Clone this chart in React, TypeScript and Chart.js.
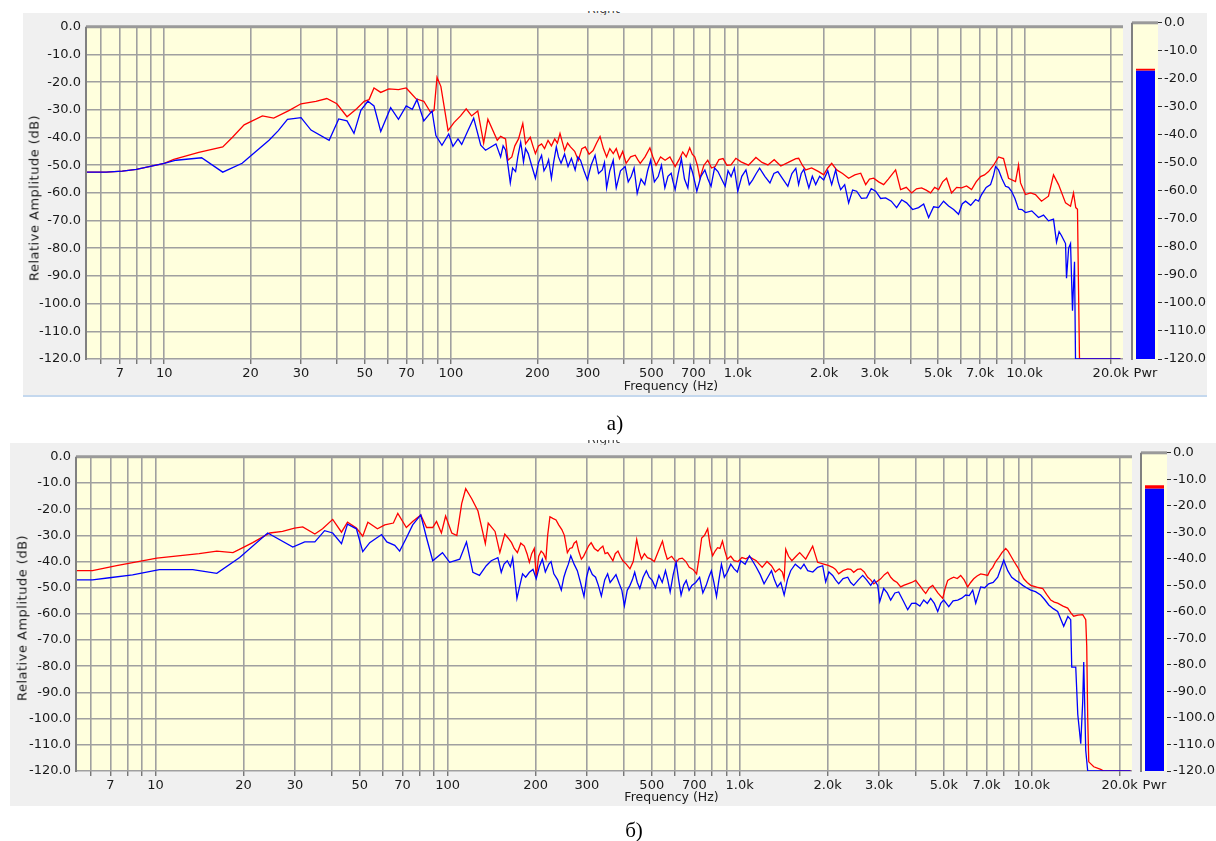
import React, { useEffect, useRef } from 'react';
import { Chart, registerables } from 'chart.js';
Chart.register(...registerables);

// ---- axis ticks ----
const gridFreqs = [6, 7, 8, 9, 10, 20, 30, 40, 50, 60, 70, 80, 90, 100, 200, 300, 400, 500, 600, 700, 800, 900, 1000, 2000, 3000, 4000, 5000, 6000, 7000, 8000, 9000, 10000, 20000];
const labeledFreqs = [7, 10, 20, 30, 50, 70, 100, 200, 300, 500, 700, 1000, 2000, 3000, 5000, 7000, 10000, 20000];
const freqLabels = ['7', '10', '20', '30', '50', '70', '100', '200', '300', '500', '700', '1.0k', '2.0k', '3.0k', '5.0k', '7.0k', '10.0k', '20.0k'];
const dbTicks = [0, -10, -20, -30, -40, -50, -60, -70, -80, -90, -100, -110, -120];
const freqMin = 5.38;
const freqMax = 22050;

// ---- panel a): [frequency Hz, level dB] ----
const blueA: number[][] = [
  [5.38, -52.5], [6.28, -52.5], [7.14, -52.1], [8.0, -51.5], [8.86, -50.5], [10, -49.3], [11, -48.2], [13.5, -47.3], [16.0, -52.5], [18.7, -49.3],
  [20.1, -46.5], [23.2, -41], [25, -37.5], [26.9, -33.4], [30, -32.8], [32.5, -37.3], [37.6, -41], [40.6, -33.3], [43.4, -34], [45.9, -38.5],
  [48.5, -30.2], [51.3, -26.9], [53.9, -28.6], [56.9, -37.8], [61.6, -29.2], [65.6, -33.4], [69.8, -28.6], [73.3, -29.8], [76.1, -26.3], [80.4, -34],
  [85.9, -30.4], [88.6, -39.3], [93, -42.8], [98.2, -38.7], [101.6, -43.2], [105.8, -40.5], [109, -42.5], [114, -38], [120, -33], [127, -42.8],
  [132, -44.6], [143.5, -42.3], [149, -47], [152, -43], [155, -44.5], [158, -50], [161, -56.4], [164, -51], [168, -52.3], [171, -47],
  [175, -41.7], [177, -45], [179, -48.8], [182, -44], [186, -45.8], [191, -50], [197, -54.7], [202, -49], [207, -46.4], [211, -52],
  [215, -50.5], [219, -48], [224, -54.7], [228, -49], [233, -43.4], [237, -47], [242, -49.3], [249, -46], [256, -50.5], [263, -47.5],
  [271, -51.7], [277, -47], [283, -48.2], [291, -52], [299, -55.3], [308, -50], [318, -46.4], [327, -53], [337, -51.7], [343, -49],
  [349, -58.2], [358, -52], [368, -48.2], [372, -53], [377, -58.2], [390, -52], [405, -50.5], [415, -56], [425, -54.1], [435, -51],
  [446, -60.2], [460, -55], [474, -57], [485, -52], [497, -48.2], [512, -56], [528, -54.1], [542, -50], [557, -58.2], [571, -54],
  [586, -52.9], [595, -56], [605, -58.8], [620, -53], [636, -47.6], [652, -55], [670, -58.2], [683, -50], [697, -52.9], [708, -56],
  [720, -59.4], [744, -54], [768, -51.7], [787, -55], [807, -57.6], [830, -51], [853, -52.3], [878, -55], [904, -57.6], [925, -52],
  [948, -54.1], [973, -51], [1000, -59.4], [1033, -54], [1068, -51.7], [1097, -57], [1127, -55.3], [1160, -53], [1192, -51.1], [1243, -54],
  [1295, -56.4], [1337, -53], [1380, -52.3], [1437, -55], [1495, -57.6], [1545, -53], [1594, -51.1], [1630, -57], [1665, -53], [1700, -51.5],
  [1735, -55], [1770, -58.2], [1820, -54], [1870, -57], [1930, -54], [1994, -55.3], [2060, -52], [2126, -57], [2195, -51.7], [2240, -56],
  [2285, -58.8], [2360, -57], [2436, -63.6], [2515, -59], [2598, -59.4], [2700, -62], [2815, -61.8], [2920, -58.5], [3026, -59.4], [3150, -62],
  [3279, -61.8], [3430, -63], [3581, -65.3], [3730, -62.5], [3880, -63.6], [4070, -66], [4272, -65.3], [4450, -64], [4630, -68.9], [4820, -65],
  [5015, -65.3], [5220, -63], [5435, -64.7], [5660, -66], [5888, -67.7], [6060, -64], [6229, -63], [6490, -64.5], [6751, -62.4], [6910, -63],
  [7083, -60.6], [7350, -58], [7612, -57], [7780, -54], [7925, -50.5], [8117, -51.7], [8350, -55], [8587, -57.6], [8800, -58], [9010, -59.4],
  [9260, -62], [9531, -65.9], [9800, -66], [10080, -67.1], [10600, -66.5], [11190, -68.9], [11650, -68], [12120, -70.1], [12620, -69.5], [12930, -77.8],
  [13200, -74], [13450, -75.4], [13700, -77], [13900, -78.3], [14010, -90.8], [14250, -80], [14470, -78.3], [14700, -102.6], [14940, -84.9], [15060, -120],
  [21600, -120],
];
const redA: number[][] = [
  [5.38, -52.5], [6.28, -52.5], [7.14, -52.1], [8.0, -51.5], [8.86, -50.5], [10, -49.3], [10.8, -47.9], [13.2, -45.4], [16, -43.4], [17.3, -39.9],
  [19, -35.4], [22, -32.2], [24.1, -33], [27.3, -30.2], [30, -27.8], [33.8, -26.9], [36.9, -25.9], [40, -27.8], [43.4, -32.5], [47, -29.5],
  [49.8, -26.9], [51.8, -26.3], [53.9, -22.1], [56.9, -23.7], [60.7, -22.4], [65.6, -22.7], [69.8, -22.1], [75.5, -26], [80.4, -26.9], [85, -31],
  [87.3, -30.2], [89.4, -18.3], [92.2, -21.5], [97.7, -37.5], [102.4, -34.6], [108, -32.2], [113, -29.6], [118, -32.2], [124, -30.4], [130, -42],
  [134.5, -33.4], [145, -41], [149, -39.6], [155, -40.5], [158, -48.2], [163, -47], [167, -43], [172, -40.5], [178, -34.9], [182, -42.3],
  [189, -39.9], [193, -43], [197, -45.8], [202, -43], [207, -42.3], [212, -44], [218, -41], [224, -43], [230, -40.5], [235, -42],
  [240, -38.5], [249, -44.7], [255, -42], [261, -43.4], [270, -45], [278, -48.2], [286, -44], [294, -43.4], [303, -46], [313, -44.7],
  [322, -42], [331, -39.6], [340, -44], [349, -47], [358, -44], [368, -45.8], [377, -44], [387, -47.6], [397, -45], [408, -49.3],
  [423, -47], [439, -46.4], [448, -48], [457, -49.3], [475, -47], [494, -43.7], [506, -47], [519, -50], [538, -47], [558, -48.2],
  [580, -47], [605, -50.5], [624, -48], [643, -45.2], [661, -47], [680, -43.7], [694, -46], [708, -47], [723, -50], [738, -54.7],
  [762, -50], [786, -48.2], [810, -51], [834, -50.5], [860, -48], [889, -47.6], [917, -50], [947, -49.9], [985, -47.5], [1027, -48.8],
  [1090, -50], [1157, -47.2], [1215, -49], [1274, -49.9], [1340, -48], [1413, -50.3], [1500, -49], [1594, -47.6], [1631, -47.5], [1680, -50],
  [1725, -51.7], [1810, -51], [1915, -52.3], [1994, -53.5], [2060, -51], [2126, -49.3], [2213, -51.7], [2320, -53], [2436, -54.7], [2560, -53.5],
  [2684, -52.9], [2793, -57], [2880, -55], [2978, -54.7], [3100, -56], [3227, -57], [3350, -55], [3552, -51.7], [3698, -58.8], [3870, -58],
  [4040, -60], [4200, -58.5], [4377, -58.2], [4540, -59], [4704, -60], [4860, -58], [5015, -58.8], [5180, -56], [5348, -54.7], [5567, -60],
  [5800, -58], [6032, -58.2], [6280, -57.5], [6537, -58.8], [6780, -56], [7025, -54.1], [7250, -53.5], [7491, -52.3], [7800, -50], [8117, -47],
  [8449, -47.6], [8797, -54.7], [9302, -55.9], [9531, -49.9], [9685, -56.4], [10080, -60.6], [10500, -60], [10920, -60.6], [11460, -63], [12120, -61.2],
  [12620, -53.5], [13140, -57], [13900, -63.6], [14470, -64.8], [14820, -60], [15090, -65.3], [15300, -65.9], [15430, -94.9], [15550, -120], [21600, -120],
];
const pwrBlueA = [-120, -17.0];
const pwrRedA = [-17.0, -16.4];

// ---- panel б): [frequency Hz, level dB] ----
const blueB: number[][] = [
  [5.38, -47], [6.08, -47], [6.95, -46.2], [8.34, -45.1], [10.3, -43.1], [13.4, -43.1], [16.2, -44.5], [19.4, -38.5], [24.2, -29.1], [29.5, -34.5],
  [32.4, -32.5], [35.1, -32.5], [37.9, -28.2], [40.4, -29.1], [43.3, -33.2], [45.4, -25.7], [48.7, -27.5], [51.2, -36.2], [54.1, -32.8], [59.4, -29.7],
  [61.9, -32.5], [65.9, -33.8], [68.5, -36], [72.2, -31], [75.9, -26], [80.9, -22.2], [84.7, -31], [88.9, -39.7], [96, -36.6], [101.6, -40.3],
  [110, -39.1], [116, -32.5], [122, -44.1], [128.5, -45.3], [135.6, -41.6], [141, -39.7], [148.6, -38.5], [152.6, -44.1], [156, -41], [160, -39.7],
  [164, -42], [167, -38.5], [172.7, -54.1], [176, -50], [180.5, -44.7], [185, -46], [190.5, -44.1], [196, -43], [201, -46.6], [206, -42],
  [211, -39.1], [216, -44], [222, -41], [226, -40], [231, -44.7], [238, -47], [245, -50.9], [250, -46], [254, -43.5], [259, -41],
  [264, -37.8], [271, -41], [278, -43.5], [285, -48], [293, -53.4], [299, -46], [305, -42.2], [313, -45], [321, -46], [328, -49],
  [336, -53.2], [345, -47], [353, -44.7], [360, -48], [368, -46.6], [377, -45], [387, -48.5], [395, -51], [403, -56.9], [412, -51],
  [421, -49.1], [429, -47], [437, -44.1], [446, -48], [455, -50.3], [467, -46], [479, -43.5], [490, -46], [502, -47.2], [515, -50],
  [529, -45.3], [543, -48], [557, -43.5], [567, -47], [578, -51.6], [592, -45], [606, -40.3], [618, -47], [630, -52.8], [643, -49],
  [656, -47.2], [671, -51], [686, -49.1], [707, -48], [729, -46], [748, -52], [768, -49.1], [784, -46], [800, -43.5], [816, -48],
  [833, -53.4], [849, -47], [866, -41], [886, -46], [907, -44.1], [932, -41], [957, -42.8], [982, -44], [1008, -39.7], [1044, -41],
  [1080, -37.8], [1110, -40], [1140, -42.2], [1176, -45], [1212, -48.5], [1248, -46], [1285, -43.5], [1315, -47], [1346, -49.7], [1383, -48],
  [1420, -52.8], [1457, -47], [1495, -43.5], [1550, -41], [1618, -42.8], [1660, -41], [1710, -43.5], [1780, -44], [1849, -42.2], [1924, -41.6],
  [1970, -47.8], [2020, -44], [2082, -45.3], [2130, -47], [2183, -48.5], [2260, -46.5], [2344, -46], [2400, -48], [2457, -49.1], [2550, -47],
  [2638, -45.3], [2720, -47], [2810, -49.1], [2890, -47], [2970, -49.1], [3017, -55.3], [3113, -50.3], [3200, -52], [3289, -54.7], [3400, -52],
  [3503, -51.6], [3630, -55], [3761, -58.4], [3880, -56], [4006, -55.9], [4140, -57], [4268, -54.7], [4390, -56], [4509, -54.1], [4640, -56],
  [4766, -59.1], [4880, -56], [4996, -54.7], [5100, -56], [5198, -57.2], [5380, -55], [5579, -54.7], [5760, -54], [5943, -52.8], [6110, -53],
  [6280, -50.9], [6431, -55.9], [6688, -49.7], [6900, -50], [7124, -48.5], [7380, -48], [7648, -46], [8020, -39.5], [8277, -43.5], [8540, -46],
  [8815, -47.2], [9060, -48], [9316, -49.1], [9600, -50], [9922, -50.9], [10300, -51.5], [10730, -52.8], [11070, -54.5], [11440, -56.6], [11850, -58],
  [12270, -59.1], [12870, -64.7], [13300, -61], [13600, -62.2], [13710, -80.3], [14150, -80.3], [14380, -98.4], [14720, -109.6], [14950, -93.4], [15070, -78.4],
  [15310, -112.1], [15550, -120], [21800, -120],
];
const redB: number[][] = [
  [5.38, -43.5], [6.08, -43.5], [7.35, -41.6], [10.1, -38.7], [14.1, -37], [16.2, -36], [18.4, -36.6], [19.9, -34.7], [21.5, -32.8], [24.6, -29.1],
  [27.2, -28.5], [29.9, -27.2], [31.9, -26.8], [35.1, -29.5], [37.3, -27.5], [40.4, -23.9], [43.3, -28.8], [45.4, -25], [48.7, -27.2], [51.2, -30.3],
  [53.3, -25], [57.5, -27.5], [60.9, -26], [65.2, -25.3], [67.5, -21.6], [72.2, -27], [75.9, -24.7], [80.9, -22.2], [84.7, -27], [88.9, -27],
  [91.6, -24.7], [95.2, -29.1], [98.4, -22.6], [103.3, -29.1], [107.5, -30.1], [111.7, -17.9], [115.3, -12.2], [120.9, -16], [127, -20.7], [134.6, -33.2],
  [137.7, -25.3], [145.3, -28.5], [150.9, -36.6], [156.9, -29.5], [161, -31], [165.5, -32.8], [169, -35], [173.3, -36.6], [178, -33], [183, -34.1],
  [187, -37], [190.5, -40.3], [194, -37], [198, -35], [201.1, -46], [205, -38], [209, -36], [213, -37], [217, -39.1], [220, -30],
  [224, -22.9], [229, -23.5], [235, -24.1], [240, -26], [246, -27.8], [251, -30], [257, -36.6], [262, -35], [267, -34.7], [271, -33],
  [276, -32.2], [281, -36], [287, -39.1], [292, -38], [298, -36], [304, -34], [310, -32.8], [318, -35], [327, -36], [333, -35],
  [340, -34.1], [346, -37], [353, -36.6], [360, -38], [368, -39.7], [375, -37], [383, -36], [390, -38], [398, -39.7], [409, -41],
  [421, -42.8], [432, -40], [444, -31.6], [452, -36], [461, -39.1], [472, -37], [483, -38.5], [496, -39], [510, -40], [527, -36],
  [544, -32.2], [554, -36], [565, -39.1], [585, -38], [606, -40.3], [620, -39], [636, -38.7], [654, -40], [672, -42.2], [692, -43],
  [712, -44.7], [725, -39], [741, -31], [758, -30], [777, -27.5], [792, -34], [808, -37.8], [824, -36], [840, -34.7], [856, -35],
  [873, -32.2], [890, -36], [907, -39.1], [932, -38], [957, -39.7], [987, -40], [1018, -38.5], [1050, -39], [1080, -38.2], [1110, -39],
  [1140, -39.7], [1167, -41], [1194, -42.2], [1240, -40], [1285, -41.6], [1325, -44], [1366, -42.8], [1400, -44], [1420, -46.6], [1438, -35.3],
  [1470, -38], [1509, -39.7], [1560, -38], [1605, -36.6], [1683, -39.1], [1778, -34.1], [1849, -40.3], [1940, -41], [2010, -41.5], [2082, -42.2],
  [2130, -43], [2183, -44.7], [2260, -43.5], [2344, -42.8], [2400, -43], [2457, -44.1], [2530, -43], [2597, -42.8], [2670, -44], [2744, -46],
  [2810, -47], [2877, -48.5], [2960, -47.5], [3040, -46.6], [3130, -45], [3213, -44.1], [3290, -46], [3368, -47.2], [3460, -48], [3559, -49.7],
  [3660, -49], [3761, -48.5], [3880, -48], [4006, -47.2], [4090, -48.5], [4168, -49.7], [4250, -51], [4335, -52.2], [4460, -50], [4581, -49.1],
  [4770, -52], [4958, -54.1], [5060, -50], [5157, -47.2], [5280, -46.5], [5407, -46], [5560, -46.5], [5712, -45.3], [5870, -47], [6036, -49.7],
  [6180, -48], [6329, -46.6], [6500, -45.5], [6688, -44.7], [6880, -45], [7068, -45.3], [7200, -43.5], [7352, -42.2], [7530, -40], [7709, -38.5],
  [7920, -36.5], [8147, -35], [8300, -36], [8475, -37.8], [8700, -40], [8955, -42.2], [9170, -44.5], [9389, -46.6], [9650, -48], [9922, -49.1],
  [10400, -49.8], [10910, -50.3], [11250, -52.5], [11620, -54.7], [11950, -55.5], [12270, -55.9], [12800, -57], [13280, -57.8], [13600, -59.5], [13920, -60.9],
  [14400, -60.5], [14950, -60.3], [15310, -62.2], [15430, -72.2], [15550, -99.7], [15680, -116.5], [16310, -118.4], [17230, -119.4], [17640, -120], [21800, -120],
];
const pwrBlueB = [-120, -13.5];
const pwrRedB = [-13.5, -12.2];

const FONT = 'DejaVu Sans';
const TXT = '#1a1a1a';
const PLOT_BG = '#ffffdd';
const PANEL_BG = '#f0f0f0';
const GRID = '#a0a0a0';
const TICK_SIZE = 13;

const toPts = (s: number[][]) => s.map(([x, y]) => ({ x, y }));
const freqLabel = (v: number) => {
  const i = labeledFreqs.indexOf(v);
  return i >= 0 ? freqLabels[i] : '';
};

const plotFrame = {
  id: 'plotFrame',
  beforeDraw(chart: any) {
    const { ctx, chartArea: a } = chart;
    ctx.save();
    ctx.fillStyle = PLOT_BG;
    ctx.fillRect(a.left, a.top, a.right - a.left, a.bottom - a.top);
    ctx.restore();
  },
  afterDraw(chart: any) {
    const { ctx, chartArea: a } = chart;
    ctx.save();
    ctx.strokeStyle = '#9a9a9a';
    ctx.lineWidth = 3;
    ctx.beginPath();
    ctx.moveTo(a.left - 1, a.top);
    ctx.lineTo(a.right, a.top);
    ctx.stroke();
    ctx.strokeStyle = '#808080';
    ctx.lineWidth = 2;
    ctx.beginPath();
    ctx.moveTo(a.left - 1, a.top);
    ctx.lineTo(a.left - 1, a.bottom + 1);
    ctx.stroke();
    ctx.restore();
  },
};

type PanelProps = {
  red: number[][]; blue: number[][];
  pwrBlue: number[]; pwrRed: number[];
  mainLeft: number; mainWidth: number; top: number; height: number;
  yAxisW: number; xAxisH: number; padTop: number; padRight: number;
  pwrLeft: number; pwrWidth: number; pwrPadLeft: number; pwrAxisW: number;
};

function SpectrumPanel(p: PanelProps) {
  const mainRef = useRef<HTMLCanvasElement>(null);
  const pwrRef = useRef<HTMLCanvasElement>(null);

  useEffect(() => {
    const tickFont = { family: FONT, size: TICK_SIZE };
    const main = new Chart(mainRef.current!, {
      type: 'line',
      data: {
        datasets: [
          { label: 'Blue', data: toPts(p.blue), borderColor: '#0000ff', borderWidth: 1.3, pointRadius: 0, tension: 0, order: 0 },
          { label: 'Red', data: toPts(p.red), borderColor: '#ff0000', borderWidth: 1.3, pointRadius: 0, tension: 0, order: 1 },
        ],
      },
      options: {
        animation: false,
        responsive: false,
        devicePixelRatio: 1,
        layout: { padding: { top: p.padTop, right: p.padRight, left: 0, bottom: 0 } },
        plugins: { legend: { display: false }, tooltip: { enabled: false } },
        scales: {
          x: {
            type: 'logarithmic',
            min: freqMin,
            max: freqMax,
            afterBuildTicks: (s: any) => { s.ticks = gridFreqs.map((v) => ({ value: v })); },
            afterFit: (s: any) => { s.height = p.xAxisH; },
            ticks: { autoSkip: false, maxRotation: 0, minRotation: 0, padding: 2, color: TXT, font: tickFont, callback: (v: any) => freqLabel(Number(v)) },
            grid: { color: GRID, lineWidth: 1.6, drawTicks: true, tickLength: 5, tickColor: '#444', tickWidth: 1 },
            border: { display: false },
          },
          y: {
            type: 'linear',
            min: -120,
            max: 0,
            afterBuildTicks: (s: any) => { s.ticks = dbTicks.map((v) => ({ value: v })); },
            afterFit: (s: any) => { s.width = p.yAxisW; },
            ticks: { padding: 6, color: TXT, font: tickFont, callback: (v: any) => Number(v).toFixed(1) },
            grid: { color: GRID, lineWidth: 1.6, drawTicks: false },
            border: { display: false },
          },
        },
      } as any,
      plugins: [plotFrame],
    });

    const pwr = new Chart(pwrRef.current!, {
      type: 'bar',
      data: {
        labels: ['Pwr'],
        datasets: [
          { label: 'level', data: [[p.pwrBlue[0], p.pwrBlue[1]]], backgroundColor: '#0000ff', grouped: false, barPercentage: 1, categoryPercentage: 0.76, order: 1 },
          { label: 'peak', data: [[p.pwrRed[0], p.pwrRed[1]]], backgroundColor: '#ff0000', grouped: false, barPercentage: 1, categoryPercentage: 0.76, order: 0 },
        ],
      } as any,
      options: {
        animation: false,
        responsive: false,
        devicePixelRatio: 1,
        layout: { padding: { top: p.padTop, right: 0, left: p.pwrPadLeft, bottom: 0 } },
        plugins: { legend: { display: false }, tooltip: { enabled: false } },
        scales: {
          x: {
            afterFit: (s: any) => { s.height = p.xAxisH; },
            ticks: { padding: 2, color: TXT, font: tickFont },
            grid: { drawOnChartArea: false, drawTicks: true, tickLength: 5, tickColor: 'rgba(0,0,0,0)' },
            border: { display: false },
          },
          y: {
            position: 'right',
            min: -120,
            max: 0,
            afterBuildTicks: (s: any) => { s.ticks = dbTicks.map((v) => ({ value: v })); },
            afterFit: (s: any) => { s.width = p.pwrAxisW; },
            ticks: { padding: 2, color: TXT, font: tickFont, callback: (v: any) => Number(v).toFixed(1) },
            grid: { drawOnChartArea: false, drawTicks: true, tickLength: 4, tickColor: '#333', tickWidth: 1 },
            border: { display: false },
          },
        },
      } as any,
      plugins: [plotFrame],
    });

    return () => { main.destroy(); pwr.destroy(); };
  }, []);

  return (
    <>
      <canvas ref={mainRef} width={p.mainWidth} height={p.height}
        style={{ position: 'absolute', left: p.mainLeft, top: p.top, width: p.mainWidth, height: p.height }} />
      <canvas ref={pwrRef} width={p.pwrWidth} height={p.height}
        style={{ position: 'absolute', left: p.pwrLeft, top: p.top, width: p.pwrWidth, height: p.height }} />
    </>
  );
}

function Label(props: { x: number; y: number; text: string; size: number; family?: string; rotate?: boolean; color?: string; spacing?: number }) {
  return (
    <div style={{
      position: 'absolute', left: props.x, top: props.y,
      transform: `translate(-50%, -50%)${props.rotate ? ' rotate(-90deg)' : ''}`,
      whiteSpace: 'nowrap', lineHeight: 1, fontSize: props.size, letterSpacing: props.spacing || 0,
      fontFamily: props.family || FONT, color: props.color || TXT,
    }}>{props.text}</div>
  );
}

function ClippedTitle(props: { x: number; y: number; h: number; off: number }) {
  return (
    <div style={{ position: 'absolute', left: props.x, top: props.y, width: 40, height: props.h, overflow: 'hidden' }}>
      <div style={{ position: 'absolute', left: 0, top: props.off, fontFamily: FONT, fontSize: 12.5, lineHeight: 1, color: '#444', whiteSpace: 'nowrap' }}>Right</div>
    </div>
  );
}

export default function App() {
  return (
    <div style={{ position: 'fixed', left: 0, top: 0, width: 1216, height: 841, background: '#fff', overflow: 'hidden' }}>
      {/* panel a */}
      <div style={{ position: 'absolute', left: 23, top: 13, width: 1184, height: 382, background: PANEL_BG }} />
      <div style={{ position: 'absolute', left: 23, top: 395, width: 1184, height: 2, background: '#c4d8ee' }} />
      <ClippedTitle x={587} y={11} h={4} off={-8} />
      <SpectrumPanel
        red={redA} blue={blueA}
        pwrBlue={pwrBlueA} pwrRed={pwrRedA}
        mainLeft={23} mainWidth={1110} top={13} height={382}
        yAxisW={64} xAxisH={36} padTop={8} padRight={10}
        pwrLeft={1124} pwrWidth={83} pwrPadLeft={9} pwrAxisW={49}
      />
      <Label x={34} y={198} text="Relative Amplitude (dB)" size={13} spacing={0.5} rotate />
      <Label x={671} y={386} text="Frequency (Hz)" size={12.5} />
      <Label x={615} y={423} text="а)" size={21} family="'Liberation Serif', 'Times New Roman', serif" color="#000" />

      {/* panel б */}
      <div style={{ position: 'absolute', left: 10, top: 443, width: 1206, height: 363, background: PANEL_BG }} />
      <ClippedTitle x={587} y={440} h={5} off={-7} />
      <SpectrumPanel
        red={redB} blue={blueB}
        pwrBlue={pwrBlueB} pwrRed={pwrRedB}
        mainLeft={10} mainWidth={1132} top={443} height={363}
        yAxisW={67} xAxisH={35} padTop={8} padRight={10}
        pwrLeft={1133} pwrWidth={83} pwrPadLeft={9} pwrAxisW={49}
      />
      <Label x={21.5} y={618} text="Relative Amplitude (dB)" size={13} spacing={0.5} rotate />
      <Label x={671.5} y={797} text="Frequency (Hz)" size={12.5} />
      <Label x={634} y={830} text="б)" size={21} family="'Liberation Serif', 'Times New Roman', serif" color="#000" />
    </div>
  );
}
